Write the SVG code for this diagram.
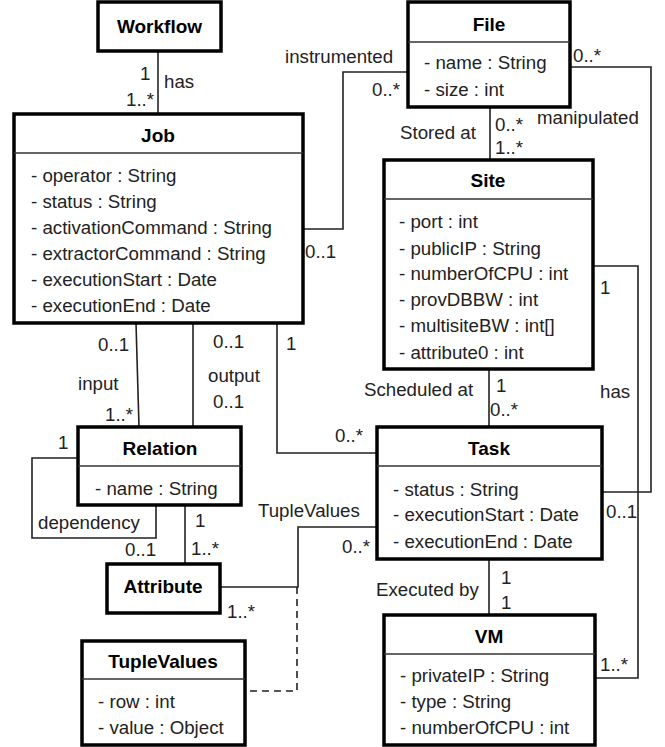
<svg xmlns="http://www.w3.org/2000/svg" width="665" height="747" viewBox="0 0 665 747">
<style>
text{font-family:"Liberation Sans",Arial,sans-serif;font-size:18.7px;fill:#222}
.t{font-weight:bold;text-anchor:middle;fill:#000;font-size:19px}
.box{fill:#fff;stroke:#000;stroke-width:3.5}
.div{stroke:#333;stroke-width:1.5}
.c{fill:none;stroke:#222;stroke-width:1.6}
.d{fill:none;stroke:#222;stroke-width:1.6;stroke-dasharray:7,5}
</style>
<rect width="665" height="747" fill="#fff"/>
<g id="connectors">
<path class="c" d="M158,51V114"/>
<path class="c" d="M303,229H343V72H408"/>
<path class="c" d="M490,107V160"/>
<path class="c" d="M570,67H651V492H602"/>
<path class="c" d="M593,266H638V678H595"/>
<path class="c" d="M489,369V427"/>
<path class="c" d="M489,559V615"/>
<path class="c" d="M277,323V453H377"/>
<path class="c" d="M136,323L139,427"/>
<path class="c" d="M193,323V427"/>
<path class="c" d="M78,458H32V538H156V505"/>
<path class="c" d="M185,505V564"/>
<path class="c" d="M220,587H298V527H377"/>
<path class="d" d="M297,587V691H245"/>
<text x="140" y="80">1</text>
<text x="126" y="106">1..*</text>
<text x="164" y="88">has</text>
<text x="285" y="63">instrumented</text>
<text x="372" y="96">0..*</text>
<text x="305" y="258">0..1</text>
<text x="400" y="139">Stored at</text>
<text x="495" y="131">0..*</text>
<text x="495" y="154">1..*</text>
<text x="573" y="62">0..*</text>
<text x="537" y="124">manipulated</text>
<text x="600" y="294">1</text>
<text x="600" y="398">has</text>
<text x="606" y="518">0..1</text>
<text x="600" y="671">1..*</text>
<text x="364" y="396">Scheduled at</text>
<text x="496" y="392">1</text>
<text x="490" y="416">0..*</text>
<text x="376" y="596">Executed by</text>
<text x="501" y="584">1</text>
<text x="501" y="609">1</text>
<text x="286" y="350">1</text>
<text x="335" y="442">0..*</text>
<text x="98" y="351">0..1</text>
<text x="78" y="390">input</text>
<text x="105" y="421">1..*</text>
<text x="213" y="348">0..1</text>
<text x="208" y="382">output</text>
<text x="213" y="408">0..1</text>
<text x="58" y="449">1</text>
<text x="38" y="529">dependency</text>
<text x="125" y="556">0..1</text>
<text x="195" y="527">1</text>
<text x="191" y="555">1..*</text>
<text x="258" y="517">TupleValues</text>
<text x="342" y="553">0..*</text>
<text x="227" y="618">1..*</text>
</g>
<g id="Workflow">
<rect class="box" x="98" y="2" width="123" height="49"/>
<text class="t" x="159.5" y="33">Workflow</text>
</g>
<g id="Job">
<rect class="box" x="14" y="114" width="289" height="209"/>
<line class="div" x1="14" y1="153" x2="303" y2="153"/>
<text class="t" x="158" y="142">Job</text>
<text x="31" y="182">- operator : String</text>
<text x="31" y="208">- status : String</text>
<text x="31" y="234">- activationCommand : String</text>
<text x="31" y="260">- extractorCommand : String</text>
<text x="31" y="286">- executionStart : Date</text>
<text x="31" y="312">- executionEnd : Date</text>
</g>
<g id="File">
<rect class="box" x="408" y="2" width="162" height="105"/>
<line class="div" x1="408" y1="42" x2="570" y2="42"/>
<text class="t" x="489" y="31">File</text>
<text x="424" y="69">- name : String</text>
<text x="424" y="96">- size : int</text>
</g>
<g id="Site">
<rect class="box" x="384" y="160" width="209" height="209"/>
<line class="div" x1="384" y1="199" x2="593" y2="199"/>
<text class="t" x="488" y="187">Site</text>
<text x="399" y="228">- port : int</text>
<text x="399" y="255">- publicIP : String</text>
<text x="399" y="280">- numberOfCPU : int</text>
<text x="399" y="306">- provDBBW : int</text>
<text x="399" y="332">- multisiteBW : int[]</text>
<text x="399" y="359">- attribute0 : int</text>
</g>
<g id="Task">
<rect class="box" x="377" y="427" width="225" height="132"/>
<line class="div" x1="377" y1="466" x2="602" y2="466"/>
<text class="t" x="489" y="455">Task</text>
<text x="393" y="496">- status : String</text>
<text x="393" y="521">- executionStart : Date</text>
<text x="393" y="548">- executionEnd : Date</text>
</g>
<g id="VM">
<rect class="box" x="384" y="615" width="211" height="130"/>
<line class="div" x1="384" y1="654" x2="595" y2="654"/>
<text class="t" x="489" y="643">VM</text>
<text x="400" y="682">- privateIP : String</text>
<text x="400" y="708">- type : String</text>
<text x="400" y="734">- numberOfCPU : int</text>
</g>
<g id="Relation">
<rect class="box" x="78" y="427" width="163" height="78"/>
<line class="div" x1="78" y1="466" x2="241" y2="466"/>
<text class="t" x="160" y="455">Relation</text>
<text x="95" y="495">- name : String</text>
</g>
<g id="Attribute">
<rect class="box" x="107" y="564" width="113" height="49"/>
<text class="t" x="163" y="593">Attribute</text>
</g>
<g id="TupleValues">
<rect class="box" x="82" y="641" width="163" height="104"/>
<line class="div" x1="82" y1="679" x2="245" y2="679"/>
<text class="t" x="163" y="668">TupleValues</text>
<text x="98" y="708">- row : int</text>
<text x="98" y="734">- value : Object</text>
</g>
</svg>
